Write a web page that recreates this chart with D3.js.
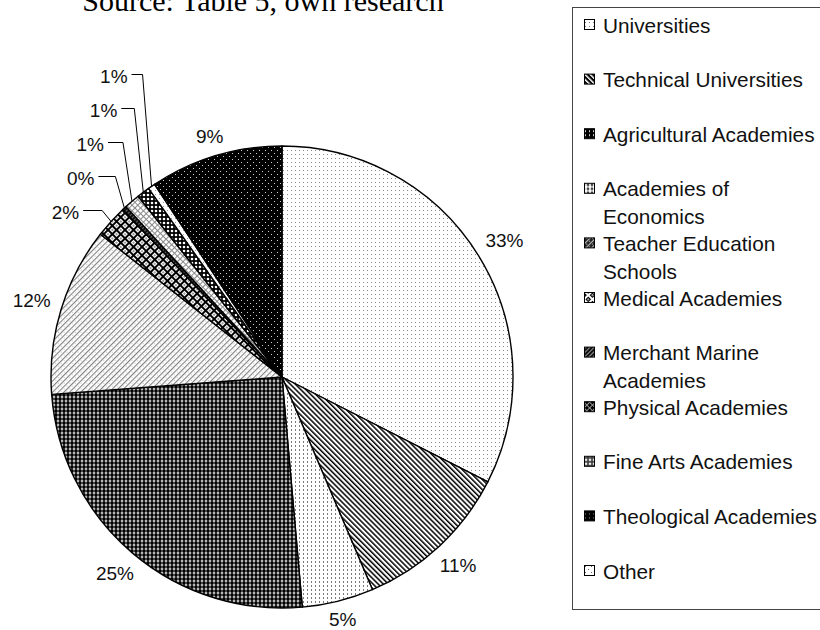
<!DOCTYPE html>
<html>
<head>
<meta charset="utf-8">
<script src="https://cdn.jsdelivr.net/npm/d3@7"></script>
<style>
  body { margin: 0; background: #fff; }
  svg { display: block; font-family: "Liberation Sans", Arial, sans-serif; }
</style>
</head>
<body>
<div class="container"></div>
<script>
// chart data
const categories = ["Universities", "Technical Universities", "Agricultural Academies",
  "Academies of Economics", "Teacher Education Schools", "Medical Academies",
  "Merchant Marine Academies", "Physical Academies", "Fine Arts Academies",
  "Theological Academies", "Other"];
const legendLines = [["Universities"], ["Technical Universities"], ["Agricultural Academies"],
  ["Academies of", "Economics"], ["Teacher Education", "Schools"], ["Medical Academies"],
  ["Merchant Marine", "Academies"], ["Physical Academies"], ["Fine Arts Academies"],
  ["Theological Academies"], ["Other"]];
const shares = [32.5, 11.1, 5.0, 25.2, 11.8, 2.3, 0.3, 1.1, 0.9, 0.5, 9.3];
// small slices labelled with leader lines
const leaderSlices = ["Medical Academies", "Merchant Marine Academies", "Physical Academies",
  "Fine Arts Academies", "Theological Academies"];
const title = "Source: Table 5, own research";

const w = 820, h = 630;
const cx = 282, cy = 377, r = 231;

const svg = d3.select(".container").append("svg")
  .attr("width", w).attr("height", h);

/* hatch patterns, one per slice and a darker one for the legend swatch */
const defs = svg.append("defs");
const dot = (p, c, x, y, s) => p.append("rect").attr("x", x).attr("y", y)
  .attr("width", s || 1).attr("height", s || 1).attr("fill", c);
const textures = [
  { size: 4, bg: "#fff", ink: "#8a8a8a", sbg: "#fff", sink: "#777", draw: (p, c) => dot(p, c, 1, 1) },
  { size: 3.6, rot: -45, bg: "#fff", ink: "#000", sbg: "#000", sink: "#fff", draw: (p, c) => dot(p, c, 0, 0, 1.5).attr("height", 3.6) },
  { size: 4, bg: "#fff", ink: "#7a7a7a", sbg: "#000", sink: "#ccc", draw: (p, c) => dot(p, c, 1, 0).attr("height", 2) },
  { size: 4, bg: "#fff", ink: "#000", sbg: "#000", sink: "#fff", draw: (p, c) => p.append("circle").attr("cx", 2).attr("cy", 2).attr("r", 1.9).attr("fill", c) },
  { size: 4, rot: 45, bg: "#fff", ink: "#808080", sbg: "#222", sink: "#bbb", draw: (p, c) => { dot(p, c, 0, 0, 1.1).attr("height", 4); dot(p, "#c8c8c8", 2, 2, 1); } },
  { size: 6, rot: 45, bg: "#fff", ink: "#000", sbg: "#000", sink: "#fff", draw: (p, c) => { dot(p, c, 0, 0, 2).attr("height", 6); dot(p, c, 0, 0, 6).attr("height", 2); dot(p, "#999", 3, 3, 2); } },
  { size: 3, rot: 45, bg: "#111", ink: "#666", sbg: "#111", sink: "#999", draw: (p, c) => dot(p, c, 0, 0, 1).attr("height", 3) },
  { size: 4, rot: 45, bg: "#fff", ink: "#8a8a8a", sbg: "#000", sink: "#999", draw: (p, c) => { dot(p, c, 0, 0, 1).attr("height", 4); dot(p, c, 0, 0, 4).attr("height", 1); } },
  { size: 4, bg: "#000", ink: "#fff", sbg: "#444", sink: "#eee", draw: (p, c) => p.append("circle").attr("cx", 2).attr("cy", 2).attr("r", 1.3).attr("fill", c) },
  { size: 4, bg: "#fff", ink: "#999", sbg: "#000", sink: "#888", draw: (p, c) => dot(p, c, 1, 1) },
  { size: 6, bg: "#000", ink: "#d0d0d0", sbg: "#fff", sink: "#666", draw: (p, c) => { dot(p, c, 1, 1); dot(p, c, 4, 4); } }
];

function makePattern(id, t, bg, ink) {
  const p = defs.append("pattern").attr("id", id)
    .attr("patternUnits", "userSpaceOnUse")
    .attr("width", t.size).attr("height", t.size);
  if (t.rot) p.attr("patternTransform", "rotate(" + t.rot + ")");
  p.append("rect").attr("width", t.size).attr("height", t.size).attr("fill", bg);
  t.draw(p, ink);
}
textures.forEach((t, i) => {
  makePattern("slice" + i, t, t.bg, t.ink);
  makePattern("swatch" + i, t, t.sbg, t.sink);
});

/* title, its top is cut by the page edge */
svg.append("text")
  .attr("x", 263).attr("y", 11)
  .attr("text-anchor", "middle")
  .style("font-family", "'Liberation Serif', 'Times New Roman', serif")
  .style("font-size", "30px")
  .text(title);

/* pie */
const pie = d3.pie().sort(null).value((d) => d);
const arcs = pie(shares);
const arc = d3.arc().innerRadius(0).outerRadius(r);

const g = svg.append("g").attr("transform", "translate(" + cx + "," + cy + ")");

g.selectAll("path.slice")
  .data(arcs)
  .enter()
  .append("path")
  .attr("class", "slice")
  .attr("d", arc)
  .attr("fill", (d, i) => "url(#slice" + i + ")")
  .attr("stroke", "#000")
  .attr("stroke-width", 1.4)
  .attr("stroke-linejoin", "round");

const midAngle = (d) => (d.startAngle + d.endAngle) / 2;
const polar = (a, rad) => [rad * Math.sin(a), -rad * Math.cos(a)];
const pct = (v) => Math.round(v) + "%";

// big slices: label box set just outside the rim
const outer = arcs.filter((d, i) => leaderSlices.indexOf(categories[i]) < 0);
g.selectAll("text.outer")
  .data(outer)
  .enter()
  .append("text")
  .attr("class", "outer")
  .attr("text-anchor", "middle")
  .attr("dominant-baseline", "central")
  .style("font-size", "19px")
  .style("fill", "#111")
  .text((d) => pct(d.data))
  .each(function (d) {
    const a = midAngle(d);
    const hw = this.getComputedTextLength() / 2;
    const dist = r + 11 + hw * Math.abs(Math.sin(a)) + 5 * Math.abs(Math.cos(a));
    const p = polar(a, dist);
    d3.select(this).attr("x", p[0]).attr("y", p[1]);
  });

// small slices: stacked labels with leader lines
const small = leaderSlices.map((name, k) => {
  const d = arcs[categories.indexOf(name)];
  const p = polar(midAngle(d), r);
  return { d: d, px: p[0], py: p[1], ly: 212 - cy - 34 * k, lx: p[0] - (32 - 2 * k) };
});

g.selectAll("path.leader")
  .data(small)
  .enter()
  .append("path")
  .attr("class", "leader")
  .attr("d", (s) => d3.line()([[s.lx + 4, s.ly - 1.5], [s.px - 9, s.ly - 1.5], [s.px, s.py]]))
  .attr("fill", "none")
  .attr("stroke", "#000")
  .attr("stroke-width", 1);

g.selectAll("text.small")
  .data(small)
  .enter()
  .append("text")
  .attr("class", "small")
  .attr("x", (s) => s.lx)
  .attr("y", (s) => s.ly)
  .attr("text-anchor", "end")
  .attr("dominant-baseline", "central")
  .style("font-size", "19px")
  .style("fill", "#111")
  .text((s) => pct(s.d.data));

/* legend */
const legend = svg.append("g");
legend.append("rect")
  .attr("x", 572.5).attr("y", 7.5)
  .attr("width", 270).attr("height", 602)
  .attr("fill", "#fff")
  .attr("stroke", "#444")
  .attr("stroke-width", 1);

const yLegend = d3.scalePoint().domain(categories).range([25, 571]);

const item = legend.selectAll("g.item")
  .data(categories)
  .enter()
  .append("g")
  .attr("class", "item")
  .attr("transform", (d) => "translate(584," + yLegend(d) + ")");

item.append("rect")
  .attr("x", 0.5).attr("y", -5.5)
  .attr("width", 10).attr("height", 10)
  .attr("fill", (d, i) => "url(#swatch" + i + ")")
  .attr("stroke", "#000")
  .attr("stroke-width", 1);

item.append("text")
  .attr("x", 19)
  .style("font-size", "20.8px")
  .style("fill", "#111")
  .selectAll("tspan")
  .data((d, i) => legendLines[i])
  .enter()
  .append("tspan")
  .attr("x", 19)
  .attr("y", (d, j) => j * 28)
  .attr("dominant-baseline", "central")
  .text((d) => d);
</script>
</body>
</html>
